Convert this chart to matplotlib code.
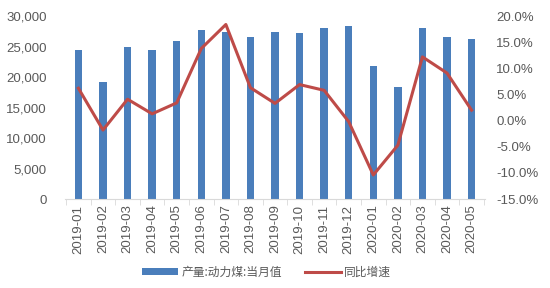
import numpy as np
import matplotlib
matplotlib.use("Agg")
import matplotlib.pyplot as plt
from matplotlib.ticker import FuncFormatter

plt.rcParams["font.family"] = ["Liberation Sans", "Noto Sans CJK SC", "DejaVu Sans"]

months = ["2019-01", "2019-02", "2019-03", "2019-04", "2019-05", "2019-06",
          "2019-07", "2019-08", "2019-09", "2019-10", "2019-11", "2019-12",
          "2020-01", "2020-02", "2020-03", "2020-04", "2020-05"]
output = [24500, 19250, 24900, 24400, 25850, 27700, 27400, 26600, 27400,
          27300, 28100, 28300, 21900, 18400, 28000, 26600, 26300]
growth = [6.2, -1.8, 4.1, 1.3, 3.4, 13.8, 18.4, 6.3, 3.3,
          6.9, 5.8, -0.2, -10.4, -4.7, 12.2, 9.1, 2.0]

BLUE = "#4a7ebb"
RED = "#be4b48"
GRAY = "#595959"

fig = plt.figure(figsize=(5.5, 2.88), dpi=100)
ax = fig.add_axes([0.118, 0.309, 0.764, 0.635])
ax2 = ax.twinx()

x = np.arange(len(months))
bars = ax.bar(x, output, width=0.3, color=BLUE, zorder=2)
line, = ax2.plot(x, growth, color=RED, linewidth=2.2, zorder=3)

ax.set_xlim(-0.55, len(months) - 0.45)
ax.set_ylim(0, 30000)
ax.set_yticks(range(0, 30001, 5000))
ax.yaxis.set_major_formatter(FuncFormatter(lambda v, p: f"{int(v):,}"))
ax2.set_ylim(-15, 20)
ax2.set_yticks(range(-15, 21, 5))
ax2.yaxis.set_major_formatter(FuncFormatter(lambda v, p: f"{v:.1f}%"))

ax.set_xticks(x)
ax.set_xticklabels(months, rotation=90)
ax.set_xticks(np.arange(-0.5, len(months)), minor=True)
ax.tick_params(axis="x", which="major", length=0, pad=4, labelsize=9.5, colors=GRAY)
ax.tick_params(axis="x", which="minor", length=4, color="#d9d9d9")
ax.tick_params(axis="y", length=0, labelsize=9.5, colors=GRAY, pad=13)
ax2.tick_params(axis="y", length=0, labelsize=9.5, colors=GRAY, pad=8)

for a in (ax, ax2):
    for s in ["top", "left", "right"]:
        a.spines[s].set_visible(False)
ax2.spines["bottom"].set_visible(False)
ax.spines["bottom"].set_color("#d9d9d9")

fig.legend([bars, line], ["产量:动力煤:当月值", "同比增速"],
           loc="center", bbox_to_anchor=(0.485, 0.055), ncol=2, frameon=False,
           prop={"family": ["Noto Sans CJK SC", "DejaVu Sans"], "size": 8.5},
           handlelength=3.0, handleheight=0.5, handletextpad=0.3,
           columnspacing=2.0, labelcolor=GRAY)

fig.savefig("out.png", dpi=100)
